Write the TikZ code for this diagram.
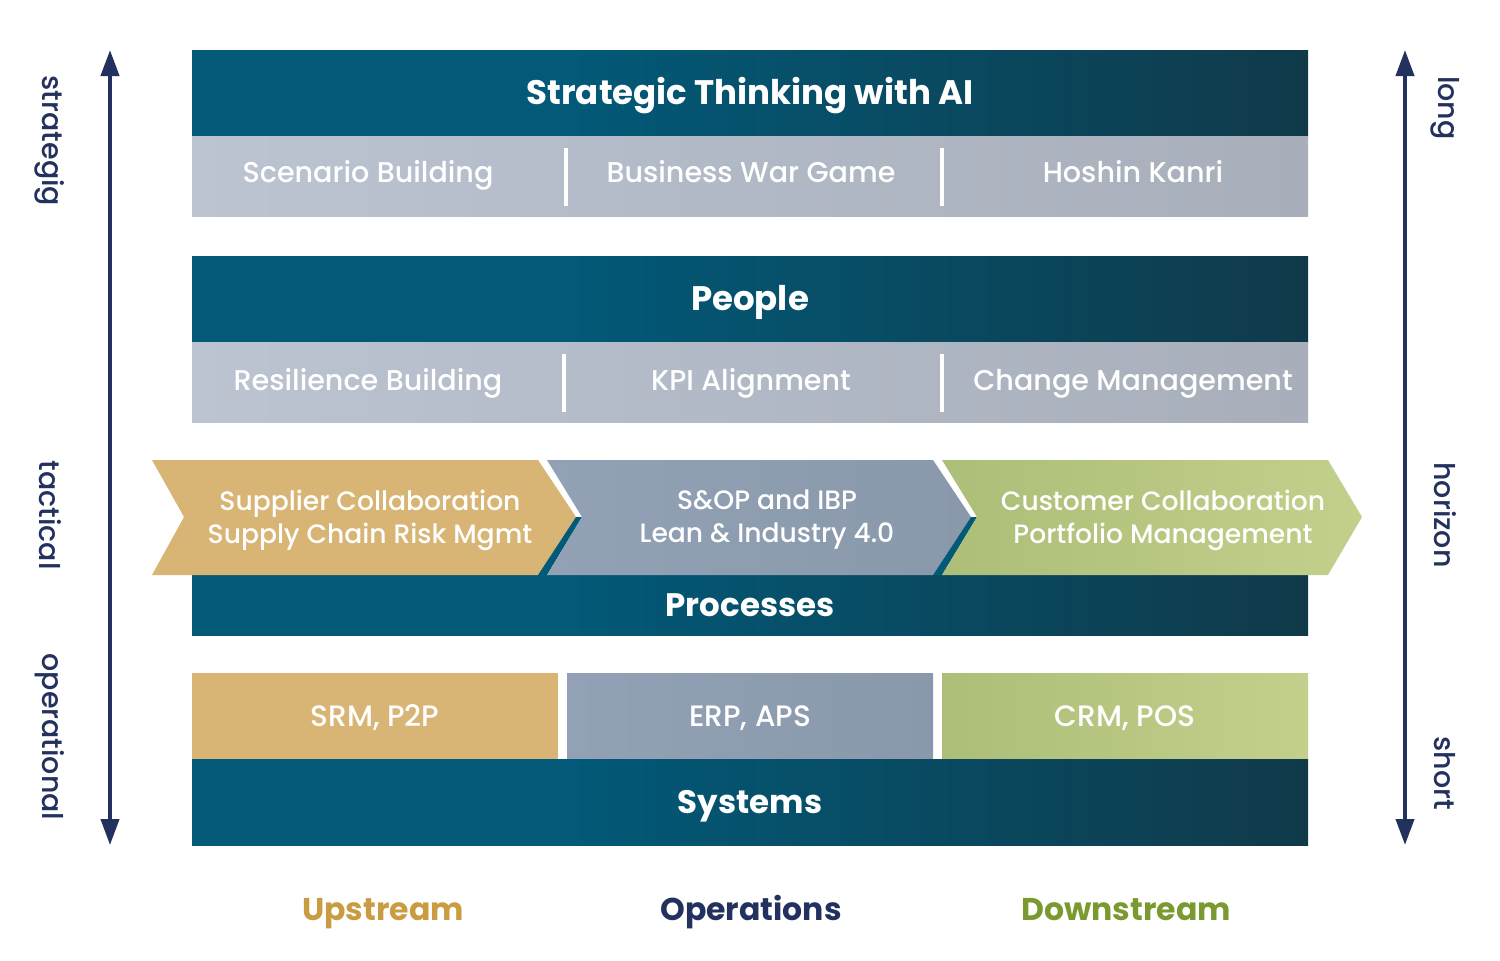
\documentclass[tikz,border=0pt]{standalone}
\usepackage{fontspec}
\setmainfont{Poppins}[UprightFont=* Medium, BoldFont=* Bold]
\usetikzlibrary{arrows.meta,positioning,shapes}

\definecolor{bandL}{RGB}{2,89,120}
\definecolor{bandR}{RGB}{16,58,74}
\definecolor{subL}{RGB}{188,195,209}
\definecolor{subR}{RGB}{168,175,187}
\definecolor{goldC}{RGB}{216,181,116}
\definecolor{slateL}{RGB}{146,161,181}
\definecolor{slateR}{RGB}{137,153,171}
\definecolor{sageL}{RGB}{172,190,120}
\definecolor{sageR}{RGB}{194,208,140}
\definecolor{navyC}{RGB}{35,49,94}
\definecolor{upC}{RGB}{202,156,66}
\definecolor{downC}{RGB}{122,154,48}

\pgfdeclarehorizontalshading{bandshade}{100bp}{color(0bp)=(bandL); color(25bp)=(bandL); color(42bp)=(bandL); color(75bp)=(bandR); color(100bp)=(bandR)}

\tikzset{
  band/.style={shade, shading=bandshade, minimum width=1116pt, minimum height=86pt, inner sep=0pt,
    text=white, text height=23.8pt, text depth=0pt, font=\fontsize{34}{40}\selectfont\bfseries},
  bandsmall/.style={text height=22.7pt, font=\fontsize{32.5}{36}\selectfont\bfseries},
  subband/.style={shade, left color=subL, right color=subR, minimum width=1116pt, minimum height=80pt, inner sep=0pt},
  subtext/.style={text=white, text height=20pt, text depth=0pt, font=\fontsize{28.6}{34}\selectfont},
  sep/.style={white, line width=4pt},
  chevtext/.style={text=white, align=center, font=\fontsize{26.6}{33}\selectfont},
  sysbox/.style={minimum width=366pt, minimum height=86pt, inner sep=0pt, text=white,
    text height=20.6pt, text depth=0pt, font=\fontsize{29.5}{32}\selectfont},
  sidelabel/.style={rotate=-90, text=navyC, font=\fontsize{28.5}{32}\selectfont},
  horizon/.style={navyC, line width=4pt, {Triangle[length=26pt,width=18pt]}-{Triangle[length=26pt,width=18pt]}},
  footlabel/.style={text height=22pt, text depth=0pt, font=\fontsize{31.5}{36}\selectfont\bfseries}
}

\begin{document}
\begin{tikzpicture}[x=1pt,y=-1pt]
    \useasboundingbox (0,0) rectangle (1500,961);

    % Strategy
    \node[band] (strat) at (750,93) {Strategic Thinking with AI};
    \node[subband] (stratsub) at (750,176) {};
    \node[subtext] (scen) at (368,172) {Scenario Building};
    \node[subtext] (war) at (751,172) {Business War Game};
    \node[subtext] (hosh) at (1133,172) {Hoshin Kanri};
    \draw[sep] (566,148) -- (566,206);
    \draw[sep] (942,148) -- (942,206);

    % People
    \node[band] (people) at (750,299) {People};
    \node[subband] (peoplesub) at (750,382) {};
    \node[subtext] (resil) at (368,380) {Resilience Building};
    \node[subtext] (kpi) at (751,380) {KPI Alignment};
    \node[subtext] (change) at (1133,380) {Change Management};
    \draw[sep] (564,354) -- (564,412);
    \draw[sep] (942,354) -- (942,412);

    % Processes
    \node[band, bandsmall, minimum height=60pt] (proc) at (750,605) {Processes};
    \fill[goldC] (152,460) -- (538,460) -- (576,517) -- (538,575) -- (152,575) -- (184,517) -- cycle;
    \fill[bandL] (576,517) -- (582,517) -- (547,575) -- (538,575) -- cycle;
    \shade[left color=slateL, right color=slateR] (547,460) -- (933,460) -- (971,517) -- (933,575) -- (547,575) -- (582,517) -- cycle;
    \fill[bandL] (971,517) -- (977,517) -- (942,575) -- (933,575) -- cycle;
    \shade[left color=sageL, right color=sageR] (942,460) -- (1328,460) -- (1362,517) -- (1328,575) -- (942,575) -- (977,517) -- cycle;
    \node[chevtext] (supp) at (370,520) {Supplier Collaboration\\Supply Chain Risk Mgmt};
    \node[chevtext] (sop) at (767,520) {S\&OP and IBP\\Lean \& Industry 4.0};
    \node[chevtext] (cust) at (1163,520) {Customer Collaboration\\Portfolio Management};

    % Systems
    \node[sysbox, fill=goldC] (srm) at (375,716) {SRM, P2P};
    \node[sysbox, shade, left color=slateL, right color=slateR] (erp) at (750,716) {ERP, APS};
    \node[sysbox, shade, left color=sageL, right color=sageR] (crm) at (1125,716) {CRM, POS};
    \node[band, bandsmall] (sys) at (750,802) {Systems};

    % Horizon arrows
    \coordinate (ltop) at (110,50);
    \coordinate (lbot) at (110,845);
    \coordinate (rtop) at (1405,50);
    \coordinate (rbot) at (1405,845);
    \draw[horizon] (ltop) -- (lbot);
    \draw[horizon] (rtop) -- (rbot);
    \node[sidelabel] (strg) at (50,141) {strategig};
    \node[sidelabel] (tact) at (50,515) {tactical};
    \node[sidelabel] (oper) at (50,737) {operational};
    \node[sidelabel] (long) at (1445,108) {long};
    \node[sidelabel] (hori) at (1445,515) {horizon};
    \node[sidelabel] (short) at (1445,773) {short};

    % Value chain
    \node[footlabel, text=upC] (up) at (383,909) {Upstream};
    \node[footlabel, text=navyC] (ops) at (751,909) {Operations};
    \node[footlabel, text=downC] (down) at (1126,909) {Downstream};
\end{tikzpicture}
\end{document}
